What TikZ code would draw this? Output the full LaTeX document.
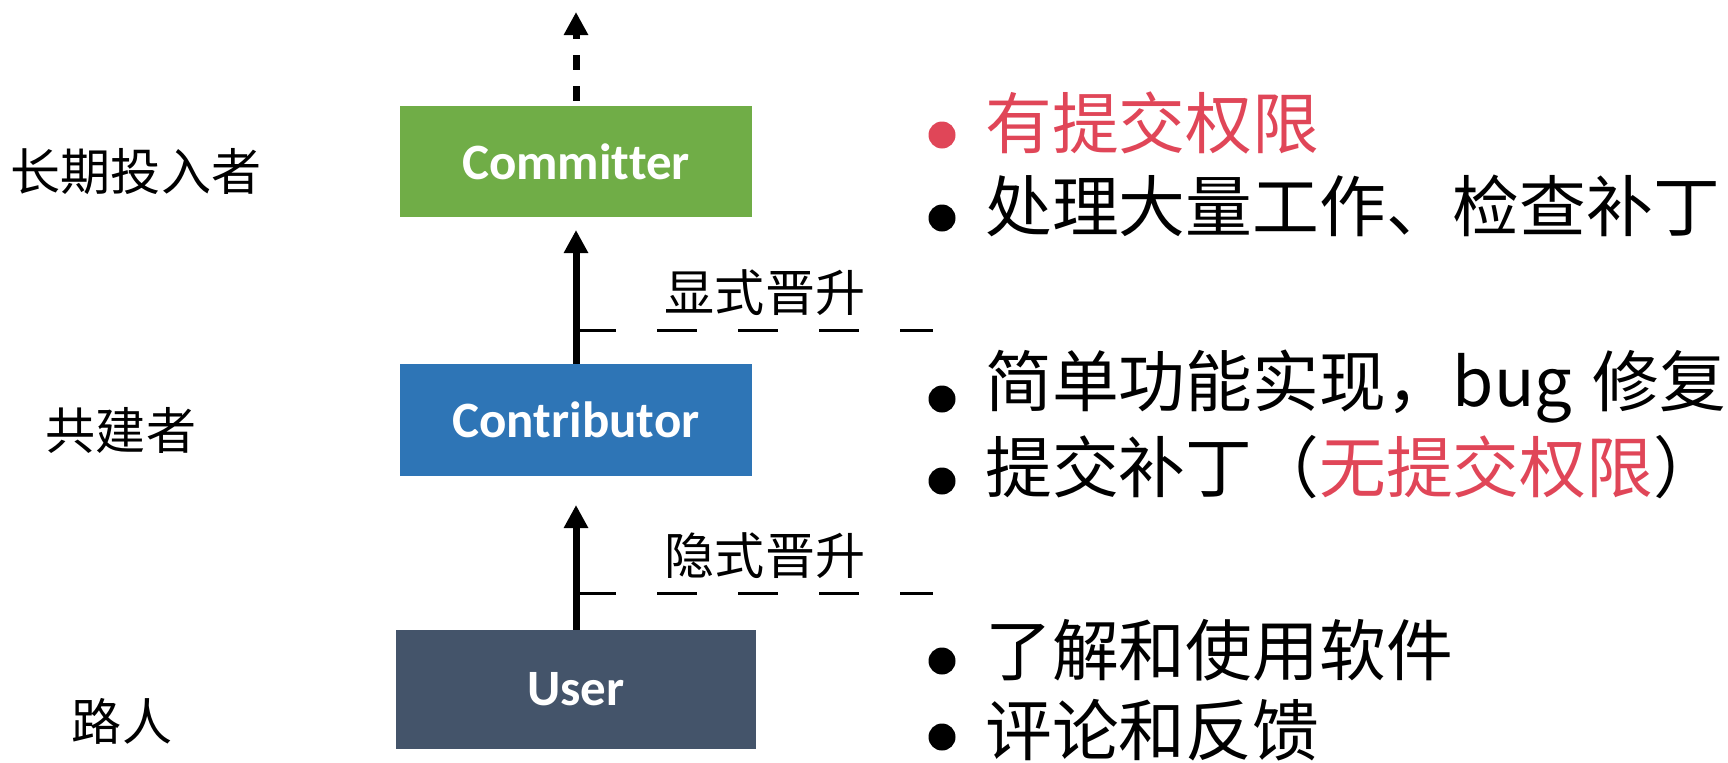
\documentclass[tikz,border=0pt]{standalone}
\usepackage{fontspec}
\newfontfamily\cjk{Noto Sans CJK SC}
\newfontfamily\boxfont[Ligatures=CommonOff]{Carlito}
\usetikzlibrary{arrows.meta}
\definecolor{cgreen}{HTML}{70AD47}
\definecolor{cblue}{HTML}{2E75B6}
\definecolor{cslate}{HTML}{44546A}
\definecolor{cred}{HTML}{E04658}
\begin{document}
\begin{tikzpicture}
\tikzstyle{role}=[minimum width=7.04cm, minimum height=2.22cm, inner sep=0, text=white, font=\boxfont\bfseries\fontsize{29}{34}\selectfont];
\tikzstyle{lab}=[inner sep=0, font=\cjk\fontsize{28.5}{34}\selectfont];
\tikzstyle{item}=[inner sep=0, anchor=west, font=\cjk\fontsize{38}{46}\selectfont];
\tikzstyle{dot}=[circle, fill, inner sep=0, minimum size=0.54cm];
\tikzstyle{up}=[line width=0.14cm, -{Triangle[width=0.46cm,length=0.46cm]}];
\tikzstyle{rung}=[line width=0.06cm, dash pattern=on 0.8cm off 0.82cm];
\useasboundingbox (0,0) rectangle (34.56,-15.24);
% roles
\node [role, fill=cgreen] (r3) at (11.52,-3.23) {Committer};
\node [role, fill=cblue, minimum height=2.24cm] (r2) at (11.52,-8.40) {Contributor};
\node [role, fill=cslate, minimum width=7.2cm, minimum height=2.38cm] (r1) at (11.52,-13.79) {User};
\node [lab] (n3) at (2.72,-3.44) {长期投入者};
\node [lab] (n2) at (2.42,-8.60) {共建者};
\node [lab] (n1) at (2.44,-14.42) {路人};
% promotions
\coordinate (t3) at (11.52,-0.24);
\coordinate (t2) at (11.52,-4.60);
\coordinate (t1) at (11.52,-10.10);
\draw [up] (r1) -- (t1);
\draw [up] (r2) -- (t2);
\draw [up, dash pattern=on 0.3cm off 0.32cm, dash phase=0.52cm] (r3) -- (t3);
\coordinate (a2) at (11.52,-6.60);
\coordinate (e2) at (18.66,-6.60);
\coordinate (a1) at (11.52,-11.86);
\coordinate (e1) at (18.66,-11.86);
\draw [rung] (a2) -- (e2);
\draw [rung] (a1) -- (e1);
\node [lab] (p2) at (15.3,-5.85) {显式晋升};
\node [lab] (p1) at (15.3,-11.11) {隐式晋升};
% duties
\node [dot, cred] (d1) at (18.84,-2.70) {};
\node [item, cred] (i1) at (19.70,-2.45) {有提交权限};
\node [dot] (d2) at (18.84,-4.36) {};
\node [item] (i2) at (19.70,-4.12) {处理大量工作、检查补丁};
\node [dot] (d3) at (18.84,-7.98) {};
\node [item] (i3) at (19.70,-7.74) {简单功能实现，bug\hspace{0.3em}修复};
\node [dot] (d4) at (18.84,-9.62) {};
\node [item] (i4) at (19.70,-9.34) {提交补丁（\textcolor{cred}{无提交权限}）};
\node [dot] (d5) at (18.84,-13.22) {};
\node [item] (i5) at (19.70,-13.00) {了解和使用软件};
\node [dot] (d6) at (18.84,-14.74) {};
\node [item] (i6) at (19.70,-14.60) {评论和反馈};
\end{tikzpicture}
\end{document}
